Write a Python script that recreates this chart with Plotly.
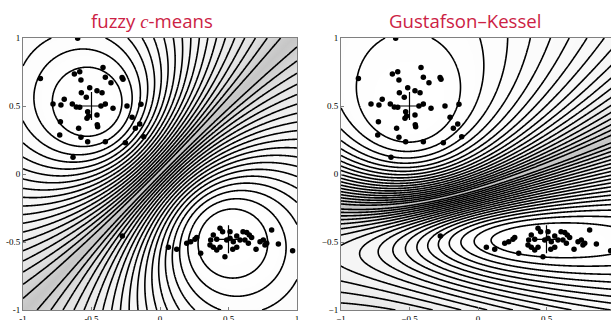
import numpy as np
import plotly.graph_objects as go

# ---------------- data ----------------
c1_x = [-0.601, -0.873, -0.625, -0.586, -0.577, -0.416, -0.399, -0.358, -0.277, -0.270,
        -0.513, -0.460, -0.423, -0.574, -0.538, -0.699, -0.781, -0.723, -0.640, -0.611,
        -0.586, -0.431, -0.399, -0.343, -0.241, -0.139, -0.528, -0.521, -0.533, -0.460,
        -0.458, -0.455, -0.727, -0.594, -0.204, -0.148, -0.180, -0.732, -0.577, -0.528,
        -0.399, -0.253, -0.119, -0.635, -0.275]
c1_y = [0.998, 0.703, 0.735, 0.752, 0.691, 0.784, 0.711, 0.671, 0.710, 0.696,
        0.635, 0.613, 0.598, 0.598, 0.564, 0.549, 0.515, 0.507, 0.515, 0.493,
        0.490, 0.500, 0.515, 0.483, 0.500, 0.512, 0.458, 0.426, 0.410, 0.434,
        0.362, 0.348, 0.385, 0.336, 0.417, 0.368, 0.336, 0.287, 0.270, 0.238,
        0.238, 0.230, 0.274, 0.123, -0.456]
c2_x = [0.061, 0.122, 0.195, 0.224, 0.255, 0.268, 0.297, 0.370, 0.389, 0.414,
        0.438, 0.457, 0.389, 0.414, 0.438, 0.474, 0.487, 0.511, 0.535, 0.560,
        0.584, 0.531, 0.560, 0.633, 0.652, 0.620, 0.645, 0.701, 0.730, 0.754,
        0.766, 0.779, 0.815, 0.864, 0.968, 0.606, 0.365, 0.511, 0.669]
c2_y = [-0.539, -0.554, -0.510, -0.498, -0.480, -0.466, -0.583, -0.485, -0.449, -0.480,
        -0.399, -0.424, -0.539, -0.559, -0.539, -0.608, -0.485, -0.473, -0.498, -0.456,
        -0.485, -0.554, -0.539, -0.431, -0.449, -0.485, -0.510, -0.554, -0.498, -0.485,
        -0.522, -0.510, -0.412, -0.515, -0.564, -0.424, -0.522, -0.424, -0.466]
center_x = [-0.5, 0.5]
center_y = [0.5, -0.48]
# GK norm-inducing matrices
gk_A1 = [[1.0, 0.0], [0.0, 1.0]]
gk_A2 = [[0.25, 0.0], [0.0, 4.0]]
titles = ["fuzzy <i><span style='font-family:Liberation Serif'>c</span></i>-means",
          "Gustafson\u2013Kessel"]
tickvals = [-1, -0.5, 0, 0.5, 1]
ticktext_left = ["-1", "-0.5", "0", "0.5", "1"]
ticktext_right = ["\u22121", "\u22120.5", "0", "0.5", "1"]

# ---------------- membership fields ----------------
g = np.linspace(-1, 1, 401)
X, Y = np.meshgrid(g, g)


def qform(A, dx, dy):
    return A[0][0] * dx * dx + 2 * A[0][1] * dx * dy + A[1][1] * dy * dy


dx1, dy1 = X - center_x[0], Y - center_y[0]
dx2, dy2 = X - center_x[1], Y - center_y[1]
I = [[1, 0], [0, 1]]
d1 = qform(I, dx1, dy1) + 1e-12
d2 = qform(I, dx2, dy2) + 1e-12
u = d2 / (d1 + d2)
z_fcm = np.maximum(u, 1 - u)

e1 = qform(gk_A1, dx1, dy1) + 1e-12
e2 = qform(gk_A2, dx2, dy2) + 1e-12
v = e2 / (e1 + e2)
z_gk = np.maximum(v, 1 - v)

shade = [[0, "rgb(198,198,198)"], [0.15, "rgb(226,226,226)"], [0.4, "rgb(245,245,245)"],
         [1, "rgb(255,255,255)"]]

fig = go.Figure()
for z, xa, ya in [(z_fcm, "x", "y"), (z_gk, "x2", "y2")]:
    fig.add_trace(go.Heatmap(x=g, y=g, z=z, zmin=0.5, zmax=1, colorscale=shade,
                             showscale=False, zsmooth="best", xaxis=xa, yaxis=ya,
                             hoverinfo="skip"))
    fig.add_trace(go.Contour(x=g, y=g, z=z, showscale=False, xaxis=xa, yaxis=ya,
                             contours=dict(start=0.52, end=0.97, size=0.025, coloring="none"),
                             line=dict(color="black", width=1.6), hoverinfo="skip"))
    fig.add_trace(go.Scatter(x=c1_x + c2_x, y=c1_y + c2_y, mode="markers", xaxis=xa, yaxis=ya,
                             marker=dict(color="black", size=5.5), hoverinfo="skip"))
    fig.add_trace(go.Scatter(x=center_x, y=center_y, mode="markers", xaxis=xa, yaxis=ya,
                             marker=dict(symbol="cross-thin", size=20,
                                         line=dict(color="black", width=1.2)),
                             hoverinfo="skip"))

W, H = 611, 320
axis_common = dict(showgrid=False, zeroline=False, showline=True, linecolor="#808080",
                   linewidth=1, ticks="inside", ticklen=3, tickcolor="#808080",
                   automargin=False,
                   tickfont=dict(family="Liberation Serif", size=9, color="#000"),
                   tickvals=tickvals)
fig.update_layout(
    width=W, height=H, margin=dict(l=0, r=0, t=0, b=0, pad=0, autoexpand=False),
    paper_bgcolor="white", plot_bgcolor="white", showlegend=False,
    xaxis=dict(axis_common, domain=[23 / W, 297 / W], range=[-1, 1], mirror=True,
               ticktext=ticktext_left, anchor="y"),
    yaxis=dict(axis_common, domain=[1 - 310 / H, 1 - 38 / H], range=[-1, 1], mirror=True,
               ticktext=ticktext_left, anchor="x"),
    xaxis2=dict(axis_common, domain=[341 / W, 1], range=[-1, -1 + 2 * 270 / 274], mirror=True,
                ticktext=ticktext_right, anchor="y2"),
    yaxis2=dict(axis_common, domain=[1 - 310 / H, 1 - 38 / H], range=[-1, 1], mirror=False,
                anchor="x2", ticktext=ticktext_right),
    annotations=[
        dict(text=titles[0], x=152 / W, y=1 - 20 / H, xref="paper", yref="paper",
             xanchor="center", yanchor="middle", showarrow=False,
             font=dict(family="Open Sans", size=18.6, color="#cc2244")),
        dict(text=titles[1], x=465 / W, y=1 - 20 / H, xref="paper", yref="paper",
             xanchor="center", yanchor="middle", showarrow=False,
             font=dict(family="Open Sans", size=18.6, color="#cc2244")),
    ],
)
fig.write_html("out.html", config={"displayModeBar": False},
               post_script="document.body.style.margin='0';document.body.style.padding='0';"
                           "document.body.style.overflow='hidden';")
